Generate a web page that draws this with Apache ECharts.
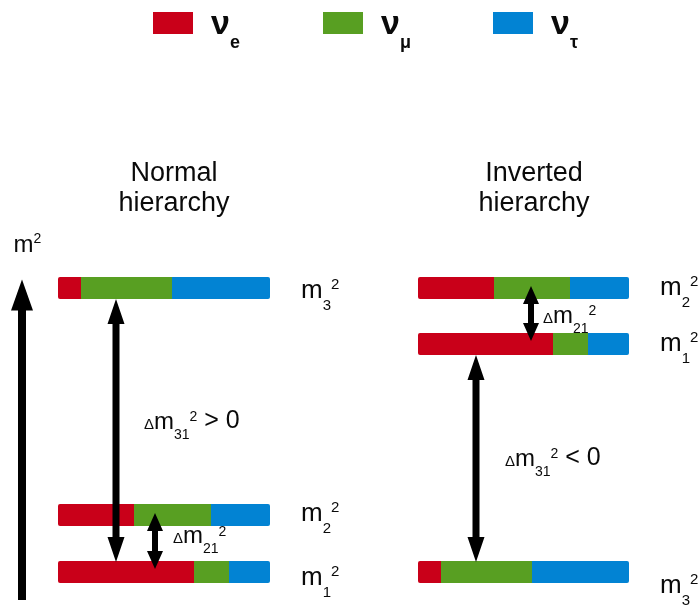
<!DOCTYPE html>
<html>
<head>
<meta charset="utf-8">
<script src="https://cdn.jsdelivr.net/npm/echarts@6/dist/echarts.min.js"></script>
<style>
html, body { margin: 0; padding: 0; background: #fff; }
#main { width: 698px; height: 607px; }
</style>
</head>
<body>
<div id="main"></div>
<script>
// flavour content of the mass states m1, m2, m3 (share of each bar)
var flavours = ['νe', 'νμ', 'ντ'];
var flavourSub = ['e', 'μ', 'τ'];
var shareE   = [0.64, 0.36, 0.11];
var shareMu  = [0.165, 0.36, 0.43];
var shareTau = [0.195, 0.28, 0.46];
var states = ['1', '2', '3'];

// m^2 of m1, m2, m3 on an arbitrary vertical scale
var normalLevels   = [5.6, 17, 62.4];
var invertedLevels = [51.2, 62.4, 5.6];

// splittings: [lower state, upper state, subscript, tail text]
var normalSplits   = [[0, 2, '31', ' > 0'], [0, 1, '21', '']];
var invertedSplits = [[2, 0, '31', ' < 0'], [0, 1, '21', '']];

// ---- styling / layout only below ----
var font = 'Liberation Sans, Arial, Helvetica, sans-serif';
var ink = '#0a0a0a';
var colors = ['#c90019', '#589f22', '#0283d3'];
var barHalf = 11;

var arrowLayout = {
    normal:   [{x: 0.275, tip: 'edge', dx: 28, dy: 0}, {x: 0.457, tip: 'centre', dx: 18, dy: 4}],
    inverted: [{x: 0.275, tip: 'edge', dx: 29, dy: 9}, {x: 0.536, tip: 'centre', dx: 12, dy: 11}]
};
// baseline of the m_i^2 labels below the bar centre
var labelNudge = {normal: [15, 8, 12], inverted: [9, 9, 23]};

var levelRich = {
    m:   {fontFamily: font, fontSize: 26, lineHeight: 26},
    sub: {fontFamily: font, fontSize: 15, lineHeight: 15, padding: [29, 0, 0, 0]},
    sup: {fontFamily: font, fontSize: 15, lineHeight: 15, padding: [0, 0, 13, 0]}
};
var deltaRich = {
    d:    {fontFamily: font, fontSize: 15, lineHeight: 15, padding: [5, 0, 0, 0]},
    m:    {fontFamily: font, fontSize: 24, lineHeight: 24},
    sub:  {fontFamily: font, fontSize: 14, lineHeight: 14, padding: [26, 0, 0, 0]},
    sup:  {fontFamily: font, fontSize: 14, lineHeight: 14, padding: [0, 0, 9, 0]},
    rest: {fontFamily: font, fontSize: 25, lineHeight: 25, padding: [0, 0, 1, 0]}
};

function shares(i) {
    return [shareE[i], shareMu[i], shareTau[i]];
}

// one custom series per flavour and hierarchy
function barData(levels, k) {
    return states.map(function (s, i) {
        var sh = shares(i);
        var start = 0;
        for (var j = 0; j < k; j++) start += sh[j];
        return [start, start + sh[k], levels[i]];
    });
}

function barItem(k) {
    return function (params, api) {
        var a = api.coord([api.value(0), api.value(2)]);
        var b = api.coord([api.value(1), api.value(2)]);
        var x0 = Math.round(a[0]), x1 = Math.round(b[0]);
        var r = k === 0 ? [2, 0, 0, 2] : (k === 2 ? [0, 2, 2, 0] : 0);
        return {
            type: 'rect',
            shape: {x: x0, y: a[1] - barHalf, width: x1 - x0, height: barHalf * 2, r: r},
            style: {fill: api.visual('color')}
        };
    };
}

function levelLabelItem(nudge) {
    return function (params, api) {
        var p = api.coord([1, api.value(0)]);
        return {
            type: 'text',
            x: p[0] + 31,
            y: p[1] + nudge[params.dataIndex] - 9,
            style: {
                text: '{m|m}{sub|' + states[params.dataIndex] + '}{sup|2}',
                rich: levelRich, align: 'left', verticalAlign: 'middle', fill: ink
            }
        };
    };
}

function arrowPoints(x, yTop, yBot, shaft, head, len) {
    return [
        [x, yTop], [x + head, yTop + len], [x + shaft, yTop + len],
        [x + shaft, yBot - len], [x + head, yBot - len], [x, yBot],
        [x - head, yBot - len], [x - shaft, yBot - len],
        [x - shaft, yTop + len], [x - head, yTop + len]
    ];
}

function splitItem(layout, splits) {
    return function (params, api) {
        var lay = layout[params.dataIndex];
        var sp = splits[params.dataIndex];
        var lo = api.coord([lay.x, api.value(0)]);
        var hi = api.coord([lay.x, api.value(1)]);
        var x = Math.round(lo[0]);
        var big = lay.tip === 'edge';
        var yTop = big ? hi[1] + barHalf : hi[1] - 2;
        var yBot = big ? lo[1] - barHalf + 1 : lo[1] - 3;
        var pts = big ? arrowPoints(x, yTop, yBot, 3.5, 8.5, 25) : arrowPoints(x, yTop, yBot, 3, 8, 18);
        var mid = (yTop + yBot) / 2;
        var txt = '{d|Δ}{m|m}{sub|' + sp[2] + '}{sup|2}' + (sp[3] ? '{rest|' + sp[3] + '}' : '');
        return {
            type: 'group',
            children: [
                {type: 'polygon', shape: {points: pts}, style: {fill: '#000'}},
                {
                    type: 'text',
                    x: x + lay.dx,
                    y: mid + lay.dy - 8.4,
                    style: {text: txt, rich: deltaRich, align: 'left', verticalAlign: 'middle', fill: ink}
                }
            ]
        };
    };
}

var series = [];
[[normalLevels, 0], [invertedLevels, 1]].forEach(function (h) {
    flavours.forEach(function (f, k) {
        series.push({
            type: 'custom',
            name: f,
            coordinateSystem: 'cartesian2d',
            xAxisIndex: h[1],
            yAxisIndex: h[1],
            itemStyle: {color: colors[k]},
            renderItem: barItem(k),
            data: barData(h[0], k)
        });
    });
});
series.push({
    type: 'custom', name: 'normal levels', coordinateSystem: 'cartesian2d',
    xAxisIndex: 0, yAxisIndex: 0, renderItem: levelLabelItem(labelNudge.normal),
    data: normalLevels.map(function (v) { return [v]; })
});
series.push({
    type: 'custom', name: 'inverted levels', coordinateSystem: 'cartesian2d',
    xAxisIndex: 1, yAxisIndex: 1, renderItem: levelLabelItem(labelNudge.inverted),
    data: invertedLevels.map(function (v) { return [v]; })
});
series.push({
    type: 'custom', name: 'normal splittings', coordinateSystem: 'cartesian2d',
    xAxisIndex: 0, yAxisIndex: 0, renderItem: splitItem(arrowLayout.normal, normalSplits),
    data: normalSplits.map(function (s) { return [normalLevels[s[0]], normalLevels[s[1]]]; })
});
series.push({
    type: 'custom', name: 'inverted splittings', coordinateSystem: 'cartesian2d',
    xAxisIndex: 1, yAxisIndex: 1, renderItem: splitItem(arrowLayout.inverted, invertedSplits),
    data: invertedSplits.map(function (s) { return [invertedLevels[s[0]], invertedLevels[s[1]]]; })
});

var legendLeft = [153, 323, 493];
var legends = flavours.map(function (f, k) {
    return {
        data: [f],
        left: legendLeft[k],
        top: -6.5,
        padding: 0,
        icon: 'rect',
        itemWidth: 40,
        itemHeight: 22,
        selectedMode: false,
        formatter: function (name) {
            return '{n|ν}{s|' + flavourSub[flavours.indexOf(name)] + '}';
        },
        textStyle: {
            color: ink,
            rich: {
                n: {fontFamily: font, fontSize: 34, fontWeight: 'bold', lineHeight: 34, padding: [4, 0, 0, 13], color: ink},
                s: {fontFamily: font, fontSize: 18, fontWeight: 'bold', lineHeight: 18, padding: [41, 0, 0, 0], color: ink}
            }
        }
    };
});

var titleStyle = {fontFamily: font, fontSize: 27, lineHeight: 30, align: 'center', verticalAlign: 'middle', fill: ink};

var option = {
    animation: false,
    textStyle: {fontFamily: font},
    legend: legends,
    graphic: [
        {type: 'text', x: 174, y: 189, style: Object.assign({text: 'Normal\nhierarchy'}, titleStyle)},
        {type: 'text', x: 534, y: 189, style: Object.assign({text: 'Inverted\nhierarchy'}, titleStyle)}
    ],
    grid: [
        {left: 58, width: 212, top: 295, bottom: 7, outerBoundsMode: 'none'},
        {left: 418, width: 211, top: 295, bottom: 7, outerBoundsMode: 'none'}
    ],
    xAxis: [
        {gridIndex: 0, type: 'value', min: 0, max: 1, show: false},
        {gridIndex: 1, type: 'value', min: 0, max: 1, show: false}
    ],
    yAxis: [
        {
            gridIndex: 0, type: 'value', min: 0, max: 61, offset: 36,
            splitLine: {show: false}, axisTick: {show: false}, axisLabel: {show: false},
            axisLine: {
                show: true, onZero: false,
                symbol: ['none', 'triangle'], symbolSize: [22, 31],
                lineStyle: {color: '#000', width: 8, cap: 'butt'}
            },
            name: '{m|m}{sup|2}',
            nameLocation: 'end',
            nameGap: 50,
            nameTextStyle: {
                align: 'center', verticalAlign: 'middle', padding: [0, 0, 0, 11], color: ink,
                rich: {
                    m: {fontFamily: font, fontSize: 24, lineHeight: 24, color: ink},
                    sup: {fontFamily: font, fontSize: 14, lineHeight: 14, padding: [0, 0, 12, 0], color: ink}
                }
            }
        },
        {gridIndex: 1, type: 'value', min: 0, max: 61, show: false}
    ],
    series: series
};

var myChart = echarts.init(document.getElementById('main'));
myChart.setOption(option);
</script>
</body>
</html>
